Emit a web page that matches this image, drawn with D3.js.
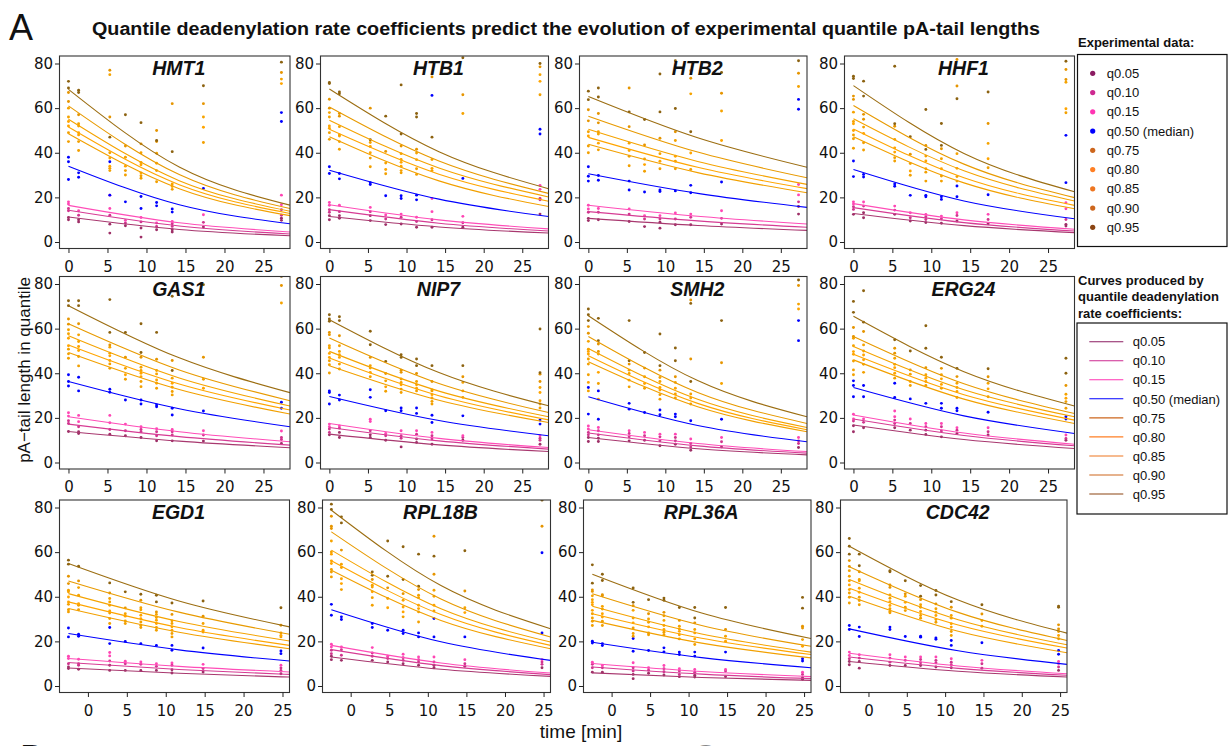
<!DOCTYPE html>
<html><head><meta charset="utf-8">
<script src="https://cdn.jsdelivr.net/npm/d3@7"></script>
<style>body{margin:0;background:#fff}svg{display:block;background:#fff}</style>
</head><body>
<svg id="chart" width="1229" height="746"></svg>
<script>
// ---------------- DATA ----------------
const genes = ["HMT1","HTB1","HTB2","HHF1","GAS1","NIP7","SMH2","ERG24","EGD1","RPL18B","RPL36A","CDC42"];
const quantiles = ["q0.05","q0.10","q0.15","q0.50","q0.75","q0.80","q0.85","q0.90","q0.95"];
const legendLabels = ["q0.05","q0.10","q0.15","q0.50 (median)","q0.75","q0.80","q0.85","q0.90","q0.95"];
const timesTop = [0, 1.3, 5.3, 7.3, 9.3, 11.3, 13.3, 17.3, 27.3];
const timesBottom = [-2.5, -1.2, 2.8, 4.8, 6.8, 8.8, 10.8, 14.8, 24.8];
const curveTimesTop = [0, 14.2, 28.4];
const curveTimesBottom = [-2.5, 11.7, 25.9];
const xTickValues = [0, 5, 10, 15, 20, 25];
const yTickValues = [0, 20, 40, 60, 80];

// curve values (q0.05 ... q0.95) at start, middle and end of the curve time range
const curveStart = [
 [11.2,14.2,16.4,34,48.5,51.5,55,61,68.4],
 [11.4,14.5,16.7,32.2,47.2,50.5,54.6,60.5,68.6],
 [10.6,13.6,16.5,30.6,43.8,46.9,50.5,56.4,65.2],
 [12.8,15.4,17.2,32.5,47.2,50.7,55.2,61.2,70.1],
 [13.9,17.2,20.5,36.3,49.3,52.7,56.8,62.2,70.3],
 [12.7,15.7,17.5,29.6,43.4,46.8,49.8,55.8,64],
 [11.2,13.2,14.7,29.5,45.2,47.9,51.1,56.5,65.8],
 [16.8,19.5,21.3,33.6,46,48.5,52,56.5,65.5],
 [8.1,10.5,12.3,23.5,34.7,37.7,41.4,47.1,54.9],
 [13,16.3,18.2,34.2,51.9,56.1,60.9,69.1,78.8],
 [5.9,8.5,10.1,19.6,29.4,32.4,35.7,41.3,50.1],
 [11,13,14.7,25.6,40.2,43.8,47.7,53.5,62.6]
];
const curveMid = [
 [5.6,7.15,8.6,16.7,23.9,25.7,27.5,30.2,33.6],
 [6.75,8.43,9.93,19.2,27.4,30.4,33.2,36.3,40.5],
 [7.42,9.47,11.56,21.8,31.1,33.5,36.1,40.3,46.7],
 [7.33,8.69,9.9,18.4,26.5,28.8,31.9,34.9,39.7],
 [9.58,11.58,13.8,24.1,32.7,35.2,37.9,41.5,46.9],
 [7.89,9.7,10.8,18.8,27.9,29.9,32,35.4,40.3],
 [6.17,7.45,8.49,16.6,25,26.5,28.3,31.4,36.7],
 [10.3,12.1,13.2,20.9,28.4,30.4,32.6,35.3,40.7],
 [5.69,7.39,8.8,16.2,24.1,26.2,28.9,33.1,38.1],
 [7.48,9.12,10.3,19.8,29.4,32,34.6,39,45],
 [3.84,5.3,6.51,12.7,19.2,21.4,23.3,27.1,32.7],
 [6.63,7.9,8.99,15.8,24.5,27.3,29.7,33,38.5]
];
const curveEnd = [
 [2.8,3.6,4.5,8.2,11.8,12.8,13.8,15,16.5],
 [4,4.9,5.9,11.4,15.9,18.3,20.2,21.8,23.9],
 [5.2,6.6,8.1,15.5,22.1,23.9,25.8,28.8,33.5],
 [4.2,4.9,5.7,10.4,14.9,16.4,18.4,19.9,22.5],
 [6.6,7.8,9.3,16,21.7,23.5,25.3,27.7,31.3],
 [4.9,6,6.7,12,17.9,19.1,20.5,22.4,25.4],
 [3.4,4.2,4.9,9.3,13.8,14.7,15.7,17.5,20.5],
 [6.3,7.5,8.2,13,17.5,19,20.5,22,25.3],
 [4,5.2,6.3,11.2,16.7,18.2,20.2,23.2,26.5],
 [4.3,5.1,5.8,11.5,16.7,18.2,19.7,22,25.7],
 [2.5,3.3,4.2,8.2,12.6,14.1,15.2,17.8,21.3],
 [4,4.8,5.5,9.7,14.9,17,18.5,20.4,23.7]
];

// experimental points: per quantile, 9 time groups (comma separated), replicates separated by "/", "-" = none
const ptsHMT1 = [
 "11/10, 10/9, 8/4, 7.3, 6.3/2.2, 5.5, 5.5/4.5, 6.7, 10.7/9.7",
 "15/14, 12, 12, 8.5, 9, 7, 8.2/7, 8.8, 14.5/12",
 "18/17, 14, 15/21, 9.7, 11, 8.5, 9.2, 12.2, 21/16.7",
 "38/36/28, 31/29, 36/21, 18, 20.4/15, 17.7/16.2, 14.8/13.4, 24, 58/54",
 "49/45, 45/41, 33/32, 32/30, 29.7/28.6, 32/27, 23.6, 44.6, -",
 "54/52, 49/48, 37.6/34, 34, 34.6/31, 35.3, 24.9, 51.4, 71",
 "60/56, 53/52, 75/40, 38, 40/35.6, 39.8, 26, 56, 73",
 "67/63, 57, 77/56, 43, 44, 50/45, 62, 62, 76",
 "72/69, 68/67, 47, 57, 53.5, 45.5, 40.5, 70, 80.6"
];
const ptsHTB1 = [
 "11.8/10, 11.8/10.6, 11.8/9.6, 7.8, 8.1, 6.6, 6.6, 6.6, 12.5",
 "14.5/13.3, 13.6, 13.6, 10.3, 11.1, 9.2, 10, 8.6, 19.5/18.9",
 "17.7/16.5, 16.5, 15.5, 12.1, 12.5, 11.1, 13.6/19.5, 11.5, 25.4/23.6",
 "33.7/30.7, 30.7/28.3, 26.6/25.8, 20.7, 20.7/19.5, 21/18.9, 65.7, 28.5, 50.5/48.4",
 "49/46, 45/41.6, 37.6/33.7, 30.6, 32/31, 32.8/30.3, 32, -, 66",
 "52/51, 47.5, 42.8/40, 32.5, 35.7/34, 36.9, 33, -, 72",
 "58/56, 51.7/48, 44.6, 35.4, 39.6/37, 39.9, 37, 57.6, 75",
 "64/60, 57.6/56.4, 60, 40.6, 43, 41.6, 74, 66, 78.5",
 "71/71.5, 67.2/66.4, 45.8, 56.4, 70.4/48.4, 57.6/56, 47, 82.6, 80"
];
const ptsHTB2 = [
 "10.6/9.6, 10, 9.2, 6.9, 8.9/6.2, 7.7, 7.7, 8.1, 15.9/12.5",
 "13.3, 13.3, 12.5, 10.3, 10.3, 10.3, 11.1, 10.6, 18",
 "16.5/14.8, 15, 14.8, 11.8, 11.8, 13, 12.5, 14, 25.8/21.1",
 "33.7/29.5/27.3, 29.8/27.7, 27.3/23.3, 22.4, 23.3/22.6, 22.9, 25.4/22.1, 26.9, 63.9/59.5",
 "43/40, 41.3, 38.4/34.2, 31.7, 32.8, 36.2/32.8, 32.5, -, -",
 "47.5, 44.3, 41, 34.7, 36.2, 38.4, 39.9, 45.5, -",
 "49.4, 49.4/48.4, 44.3, 37.2, 39.6, 45.5, 66.4, 58.7, 69.7",
 "59.3/54.3, 57.6/53.4, 69/51.7, 43.5, 46.5, 49.4, 76.8/73.4, 66.7, 75.6",
 "67.6/63.8, 69/65, 58.3, 54.9, 75.3/58.3, 59.8/81.2, 49.4, 76, 81.2"
];
const ptsHHF1 = [
 "12.4, 13.1/10.9, 12.4, 9.4, 8.7, 8.4, 9.4, 8.2, 7.9/7.2",
 "15.8/14.6, 16.1, 14.3, 10.9, 11.3/10.1, 10.4, 11.9, 10.1, 10.1",
 "18/17, 17.9, 16.1, 13.1, 12.4, 11.6, 13.1, 12.4, 17.6/14.9",
 "36.3/29.3, 30.3/29.1, 26/25, 20.9, 20.9/20.3, 20.3/19.1, 25.1/20.3, 21.2, 47.8/26.6",
 "48/46.3/42, 44.5/41.2, 37.8/36.3, 29.9, 31.3/27.3, 29.6/27.3, 29.3/27.3, 33.3, 57.9",
 "53/50, 48.7, 42.2/40.3, 31.8, 36.3/32.8, 32.8, 33, 37.3, 59.7",
 "58.2/54, 51.5, 46, 35.2, 38.5, 37.3, 39.6, 44.2, 71.6",
 "65.4/63.9, 57.2/55, 51.9, 39.3, 43.3, 41.8, 81.8/69.9, 53.1, 77.3/72.8",
 "74.3/73.3, 72.1/65.4, 78.8/53, 47.2, 59.4/41.5, 53.1/43.3, 64.2, 67.2, 81"
];
const ptsGAS1 = [
 "13.9, 13.8/13, 12.7, 12, 11.2, 9.7, 9.7, 9.6, 8.5",
 "18.7/17.5, 16, 14.8, 14.2, 14.8/13.8, 13.8/12, 13.8/12.3, 12.3, 11.2/10.3",
 "22.3/20.8, 21.1/18.3, 21.1/17.8, 17.2, 16, 15.1, 14.8, 14.2, 14.1",
 "39.3/36.3/34.3, 38.2/32.1, 32.8/31.5, 28, 28/26.2, 25.8/25, 24.3/21.3, 23.1, 27/24.3",
 "50.8/48.7/46.7, 47.5/43.3, 44.2/42.2, 37.3, 36.3/34, 33.3, 31.8/30.3, -, -",
 "55.7/52.3, 52/50.2, 47.8/45.7, 39.3, 40/38.5, 37/35.5, 35.5/33.7, 33.3, -",
 "59.5/57.7, 57.2/54.2, 51.7/49, 42.2, 42.7/41.2, 41.2/39.7, 37.8, 37.3, 71.5",
 "64.3/62, 62.2, 52.7, 47.2, 47.2, 46.3, 45.7, 47.2, 79.3",
 "72.5/70.3, 72.5/70.3, 73/58.3, 58.3, 62.2/49.3, 58.3, 74.5/41.2, 79.7, 83.4"
];
const ptsNIP7 = [
 "12.4, 13.5/11.2, 12.4/11.2, 10, 7, 10.5/9, 8.2, 10, 8.2",
 "15/13.5, 15.4, 14.2, 12, 12/10.9, 12.7, 12/10.5, 11.2, 10.9/10",
 "17.2/16, 16.4, 19.4/18.4, 13, 14.2, 14.2, 13.5, 12, 12",
 "32.1/31.4/26.2, 30.2/28, 32.6/29.2, 23.2, 24.4/23.2, 24.4/22, 21.2/17.9, 20.9, 19/17.2",
 "45.6/43.8/40.1, 44.1/41.9, 38.4, 31.9, 32.9/31.4, 32.1, 27.4/26.2, 29.2, 26.2/24.4",
 "48.9/47.1, 48.3/47.1, 40.4, 33.9, 34.8, 34.8/33.3, 30.4/28.9, 32.1, 31.4/27.7",
 "52.3/51.3, 52.3/49.8, 43.4/42.3, 36.6, 37.4/35.9, 36.3, 32.5/32.1, 35.9, 33.6",
 "58.3/57.3, 56.8, 47.1, 39.9, 41.4/40.4, 39.9, 36.3, 38.4, 39.6/36.3",
 "66.2/64.3/63.3, 65.3/63.6, 58.8/52.8, 45.3, 48.3/47.1, 46.4/43.4, 43.4, 43.4, 59.8/40.2"
];
const ptsSMH2 = [
 "11.2/9.4, 10.9/9.4, 9.7, 10, 7.5, 9.7/8.2, 5.5, 7, 6.7",
 "13.5/12.4, 14.2/12.4, 13/11.5, 12, 11.5/9.7, 11.2, 8.5/7, 9.3, 9.7/8.5",
 "16.4/15, 15.7, 14.2, 13.5, 12.7, 12.7, 10.5, 11.2, 11.2",
 "33.6/21.7, 32.1/19.4, 26.5/23.9, 22.4, 23.5/21.4, 21.7/20.5, 18.7, 19.4, 63.6/54.6",
 "46.4/44.1/39.3, 35.4/28.4, 33.9, 33.3, 30.4/28.4, 30.7/28.9, 26.2, -, -",
 "49.8/48.6/35.9, 40.4, 36.9, 35.4, 33.6/32.5, 33.3, 28.9, -, 68.8",
 "54.3/50.8/32.1, 48.6, 41.4/39.9, 38.4, 38.1/36.3, 35.9, 30.7, 35.4, 71",
 "60.9/57.9, 53.1/49.8, 44.1, 42.3, 41.4, 38.4, 72.8/46.4, 44.7, 79.3",
 "68.8/66.2/63.6, 64.6/54.6, 63.6/45.6, 49.3, 57.6/43.4, 51.3/45.6, 71.3/36.3, 63.6, 81.8"
];
const ptsERG24 = [
 "16.5/13.8, 15.6, 15.6, 14.5, 14.5/12.6, 11.5, 13, 12.3, 10",
 "18.6, 18, 19/17.5, 17.5, 16, 16/14.1, 14.5, 13.8, 10.8",
 "21.6/19.5, 19.5, 23.1/20.5, 19.5, 17.5, 17.5, 15.6, 15.6, 12.3",
 "36.6/34.5/29.5, 34.5/29.5, 35.5/29.1, 28.5, 26.5, 26.5/24.3, 24.3/23.2, 22.5, 20.5/19.5",
 "45.5/41.5/39.3, 44/40.4, 37.8, 34.5, 34.5, 33.3, 29.1, 29.5, 27.3/24.3",
 "49.7/48.5, 48.2/46, 42.5/40, 36.3, 37.8/36.3, 37.5/35, 33.6/31.8, 33, 28.8",
 "55.7/52.3, 52.7/50, 46.7/44, 39.6, 39.3, 39.3, 35.5, 35.5, 30.6",
 "60.5/56.5, 58.7, 51.2/49, 41.5, 42.5, 42.2, 38.5, 38.4, 34.5",
 "72.2/67.3, 77/62.9, 55, 50, 61.3/51.2, 47.2, 42.2, 42, 46.7/40"
];
const ptsEGD1 = [
 "8.5/7.8, 7.5, 9.3/7, 7, 7, 7, 7.3/5.8, 6.3, 5.5",
 "10, 10/9.3, 11.2, 10, 9.7, 8.8, 9.3, 7.8, 8.1/7",
 "13.3/12.3, 12, 15/13.5, 11.1, 10.8, 10, 10.3, 9.7, 9.3",
 "26/22, 23.2/22.3, 26.2/19, 20, 19, 18.2, 18.2/16, 17, 15.7/14.5",
 "36.6/34.2/33.2, 36.2/34.2, 32.7/30.2/28, 29.2/28, 28.7/27.2/26.2, 26.2/25, 23.5/22, 24.2, 22",
 "39.9/37.7, 36.9, 36.2/33.6, 31.3, 31.7/30.2, 29.5/28, 26.5/25, 25, 22.7",
 "42.9/42.2, 44.1/40.7, 39.2/37.7, 32.4, 35.1/34.2, 32.1/30.7, 29.2/28, 28, 23.8",
 "49.2/45.9, 47.1, 41.7, 35, 38.4, 33.2, 32.1, 31.3, 27.2",
 "56.4/54.6, 53.7, 46.2, 42.2, 41.1, 40.7/37.7, 37.2, 38.1, 35.1"
];
const ptsRPL18B = [
 "13.3/11.8, 11.5, 11.5, 10.8, 10, 9.3, 9.3/8.2, 8.8, 8.2",
 "16/14.5, 16.3/13.8, 14.8/13.3, 12.3, 12.7/11.5, 11.8/10.8, 10.8, 10, 10.8/9.7",
 "18.7/17.5, 17.5, 17.2, 13.3, 14.2, 13, 13, 11.8, 11.8",
 "36.6/31.7, 31/29.8, 28/26.2, 25, 25/23.5, 23.8/22, 30.2/22, 22, 59.7/23.8",
 "52.2/51.1/48.9, 43.2, 39.6/36.2, -, 31, 33.2/28.7, 33.6, -, -",
 "59.1/56.1/54.9, 48.1/45.9, 42.2, 35.1, 35.4/33.2, 36.2/34.7, 36.2, 32.9, -",
 "65/60.1, 54.6/53.1, 45.2/44.4, 39.2, 38.4, 40.7/39.6, 42.9/40.2, 35.1, -",
 "76.1/71.6/70.6, 60.9, 47.7, 44, 41.4, 43.2, 67.1/50.1, 42.6, 71.6",
 "81.5/79.1, 75.8/73.1, 51.1/49.6, 65/49.2, 62.4/47.7, 59.1/44.7, 58.2, 60.6, 83.3"
];
const ptsRPL36A = [
 "6.2, 6.2, 5.2/3.3, 5.7, 4.9, 4.2, 4.8/4, 4.2, 3.7/3",
 "9.7/8.2, 8.2, 8.2/6.7, 7.1, 7.7/6.4, 6.7/5.2, 6.2, 6.7, 5.2",
 "10.7, 9.2, 10.4, 8.2, 9.2, 7.7, 7.4, 7.4, 6.2",
 "20.1/19.3, 19/18.1, 21.3/15.6, 15.9, 17.1/15.3, 15.2/14.1, 15.2/13.4, 15.2, 12.2/11.2",
 "32.4/30.5/29/27.1, 29/27.1, 26/23.5/22.3, 23.8/23, 24.1/23, 21.1, 18.6, -, -",
 "37.5/36.4/33.9, 32.4/30.9, 28.3, 26.5, 27.1/25.3, 24.5/23, 23.8/21.1, 20.1, 17.8",
 "40.4/38.7, 35.7/34.5, 33.9/30.5, 30/28.6, 31.5/29.4, 26.8/25.6, 25.3, 22.3, 20.8",
 "43.1/42.4, 40.9/40.4, 36, 32.4, 33, 29.4, 28.3, 25.3, 26.8/26",
 "54.3/46.1, 50.1/47.3, 43.9/37.5, 38.7, 39.4/38.4, 35.2, 35.2/30.5, 35.2, 39.7/34.9"
];
const ptsCDC42 = [
 "11/9.5, 11/8, 9.2, 9.2, 9.2, 8.5, 8.2, 8, 7",
 "12.2, 12.5, 12.5/10.7, 11.5, 11.9/10.4, 11.5/10.4, 10.7/9.5, 10, 8.5",
 "15.2/13.7, 14, 14, 13, 13, 13, 12.2, 11.5, 11/10",
 "27.1/25.3, 26.4/22.2, 26.4/25.3, 22.2, 22.3/21.9, 21.5/20.9, 20.4/18.2, 19.4, 15.9/14.2",
 "41.7/39.8/37.2, 39.8/38.3/36.4, 34.6/33.4/32.8, 35.3/33.8, 31.6/30.4, 29.8/28.6, 24.4/22.6, -, 21.2",
 "47.2/45.3/43.2, 43.8/42, 37.8/36.1, 37.5, 33.4, 31.6, 27.9/26.4, 26.8, 22.6",
 "51.7/49.2, 47.7/47.2, 40.8/39.3, 40.2, 36.4/35.3, 34.6/33.1, 31.6/30.4, 29.3, 24.4",
 "56.2/53.6, 51.2, 45.3/44.2, 41.3, 38.7, 36.8, 35.3, 32.3, 27.4/25.6",
 "66.1/62.6/59.1, 59.1/53.9, 51.7/51.2, 47.2, 45/40.2, 42.8/40.8, 37.8, 36.4, 35.8/35.3"
];
const pointSets = [ptsHMT1, ptsHTB1, ptsHTB2, ptsHHF1, ptsGAS1, ptsNIP7, ptsSMH2, ptsERG24, ptsEGD1, ptsRPL18B, ptsRPL36A, ptsCDC42];

// ---------------- STYLE ----------------
const pointColors = ["#9E2F67","#D1348E","#FF45B4","#0000FF","#F2A000","#FFA500","#F5A300","#E69500","#8C6210"];
const lineColors  = ["#A8386F","#D63C94","#FF4DB8","#0000FF","#F2A000","#FFA500","#F5A300","#E89A00","#9C6E12"];
const legendColors = ["#8B1C62","#CD2990","#FF34B3","#0000FF","#CD661D","#FF7F24","#EE7621","#CD661D","#8B4513"];

const rowTops = [56, 276.5, 500];
const rowHeight = 192.5;
const colLefts = [[59.5,320.5,579.5,844.5],[59.5,320.5,579.5,844.5],[59.5,322.5,583.5,840.5]];
const colWidths = [[230.5,228,227.5,230],[230.5,228,227.5,230],[230,228,227.5,226.5]];
const xDomTop = [-1.15, 28.4], xDomBottom = [-3.65, 25.9];

const svg = d3.select("#chart");
const tickFont = "'DejaVu Sans', Verdana, sans-serif";
const textFont = "'Liberation Sans', Arial, Helvetica, sans-serif";

const parseGroups = s => s.split(",").map(g => g.trim() === "-" ? [] : g.trim().split("/").map(Number));

genes.forEach((gene, gi) => {
  const row = Math.floor(gi / 4), col = gi % 4;
  const left = colLefts[row][col], w = colWidths[row][col], top = rowTops[row], h = rowHeight;
  const bottomRow = row === 2;
  const times = bottomRow ? timesBottom : timesTop;
  const ctimes = bottomRow ? curveTimesBottom : curveTimesTop;
  const x = d3.scaleLinear().domain(bottomRow ? xDomBottom : xDomTop).range([left, left + w]);
  const y = d3.scaleLinear().domain([0, 80]).range([top + 186, top + 7.5]);

  const clipId = "clip" + gi;
  svg.append("clipPath").attr("id", clipId).append("rect")
    .attr("x", left).attr("y", top).attr("width", w).attr("height", h);

  const gp = svg.append("g").attr("clip-path", `url(#${clipId})`);

  // points
  pointSets[gi].forEach((str, qi) => {
    const groups = parseGroups(str);
    const pts = [];
    groups.forEach((vals, ti) => vals.forEach(v => pts.push([times[ti], v])));
    gp.append("g").selectAll("circle").data(pts).join("circle")
      .attr("cx", d => x(d[0])).attr("cy", d => y(d[1])).attr("r", 1.45)
      .attr("fill", pointColors[qi]);
  });

  // curves
  const line = d3.line().x(d => x(d[0])).y(d => y(d[1])).curve(d3.curveMonotoneX);
  quantiles.forEach((q, qi) => {
    const vals = [curveStart[gi][qi], curveMid[gi][qi], curveEnd[gi][qi]];
    gp.append("path").datum(ctimes.map((t, k) => [t, vals[k]]))
      .attr("d", line).attr("fill", "none")
      .attr("stroke", lineColors[qi]).attr("stroke-width", 1.1);
  });

  // box
  svg.append("rect").attr("x", left).attr("y", top).attr("width", w).attr("height", h)
    .attr("fill", "none").attr("stroke", "#333").attr("stroke-width", 1.1);

  // axes
  const ay = svg.append("g").attr("transform", `translate(${left},0)`)
    .call(d3.axisLeft(y).tickValues(yTickValues).tickSize(4.5).tickPadding(2));
  const ax = svg.append("g").attr("transform", `translate(0,${top + h})`)
    .call(d3.axisBottom(x).tickValues(xTickValues).tickSize(4.5).tickPadding(8));
  [ax, ay].forEach(a => {
    a.select(".domain").remove();
    a.selectAll("line").attr("stroke", "#222");
    a.selectAll("text").attr("font-family", tickFont).attr("font-size", 15).attr("fill", "#111");
    a.attr("font-family", tickFont).attr("font-size", 15);
  });

  // title
  svg.append("text").attr("x", left + w / 2 + 4).attr("y", top + 19)
    .attr("text-anchor", "middle").attr("font-family", textFont)
    .attr("font-weight", "bold").attr("font-style", "italic").attr("font-size", 19.5)
    .attr("fill", "#111").text(gene);
});

// figure texts
svg.append("text").attr("x", 9).attr("y", 39.5).attr("font-family", textFont)
  .attr("font-size", 36).attr("fill", "#111").text("A");
svg.append("text").attr("x", 92).attr("y", 34.5)
  .attr("font-family", textFont).attr("font-weight", "bold").attr("font-size", 18)
  .attr("textLength", 948).attr("lengthAdjust", "spacingAndGlyphs")
  .attr("fill", "#111")
  .text("Quantile deadenylation rate coefficients predict the evolution of experimental quantile pA-tail lengths");
svg.append("text").attr("transform", "translate(29.5,370) rotate(-90)")
  .attr("text-anchor", "middle").attr("font-family", textFont).attr("font-size", 17)
  .attr("fill", "#111").text("pA\u2212tail length in quantile");
svg.append("text").attr("x", 581).attr("y", 738).attr("text-anchor", "middle")
  .attr("font-family", textFont).attr("font-size", 19).attr("fill", "#111").text("time [min]");
svg.append("text").attr("x", 20).attr("y", 771).attr("font-family", textFont)
  .attr("font-size", 36).attr("fill", "#111").text("B");
svg.append("text").attr("x", 692).attr("y", 771).attr("font-family", textFont)
  .attr("font-size", 36).attr("fill", "#888").text("C");

// legend 1
svg.append("text").attr("x", 1078).attr("y", 47).attr("font-family", textFont)
  .attr("font-weight", "bold").attr("font-size", 13).attr("fill", "#111").text("Experimental data:");
svg.append("rect").attr("x", 1077.5).attr("y", 54.5).attr("width", 149.5).attr("height", 192)
  .attr("fill", "none").attr("stroke", "#111").attr("stroke-width", 1.2);
const lg1 = svg.append("g").selectAll("g").data(legendLabels).join("g")
  .attr("transform", (d, i) => `translate(0,${73.3 + i * 19.25})`);
lg1.append("circle").attr("cx", 1092.7).attr("cy", 0).attr("r", 2.6).attr("fill", (d, i) => legendColors[i]);
lg1.append("text").attr("x", 1106.7).attr("y", 0).attr("dy", "0.36em").attr("font-family", textFont)
  .attr("font-size", 13).attr("fill", "#111").text(d => d);

// legend 2
["Curves produced by", "quantile deadenylation", "rate coefficients:"].forEach((t, i) => {
  svg.append("text").attr("x", 1078).attr("y", 284.5 + i * 16.6).attr("font-family", textFont)
    .attr("font-weight", "bold").attr("font-size", 13).attr("fill", "#111").text(t);
});
svg.append("rect").attr("x", 1077).attr("y", 323).attr("width", 150).attr("height", 191)
  .attr("fill", "none").attr("stroke", "#111").attr("stroke-width", 1.2);
const lg2 = svg.append("g").selectAll("g").data(legendLabels).join("g")
  .attr("transform", (d, i) => `translate(0,${341.7 + i * 19.04})`);
lg2.append("line").attr("x1", 1089.3).attr("x2", 1123.3).attr("y1", 0).attr("y2", 0)
  .attr("stroke", (d, i) => legendColors[i]).attr("stroke-width", 1.1);
lg2.append("text").attr("x", 1132.7).attr("y", 0).attr("dy", "0.36em").attr("font-family", textFont)
  .attr("font-size", 13).attr("fill", "#111").text(d => d);
</script>
</body></html>
